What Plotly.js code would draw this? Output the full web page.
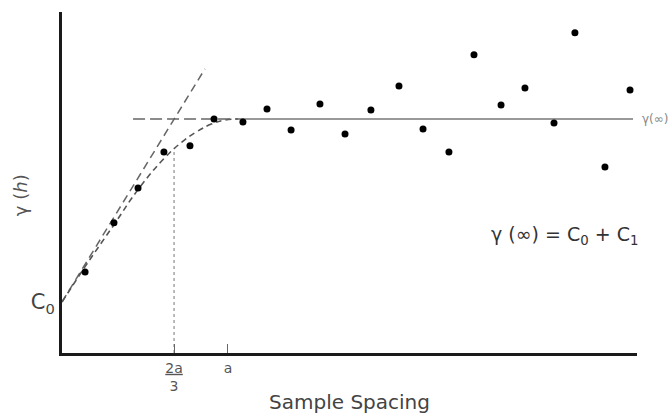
<!DOCTYPE html>
<html>
<head>
<meta charset="utf-8">
<script src="https://cdn.plot.ly/plotly-3.0.1.min.js"></script>
<style>html,body{margin:0;padding:0;background:#fff;}#chart{width:669px;height:415px;}</style>
</head>
<body>
<div id="chart"></div>
<script>
// Experimental semivariogram points (lag h in units of range a, gamma in units of sill)
const sampleSpacing = [0.139, 0.313, 0.458, 0.614, 0.771, 0.916, 1.090, 1.235, 1.380, 1.554, 1.705, 1.861, 2.030, 2.175, 2.331, 2.482, 2.645, 2.789, 2.964, 3.090, 3.271, 3.422];
const semivariance = [0.346, 0.556, 0.705, 0.859, 0.885, 1.000, 0.987, 1.043, 0.953, 1.064, 0.936, 1.038, 1.141, 0.957, 0.859, 1.274, 1.060, 1.132, 0.983, 1.368, 0.795, 1.124];

// Model curve
const modelX = [0, 0.14, 0.31, 0.46, 0.62, 0.72, 0.81, 0.90, 0.98, 1.06];
const modelY = [0.218, 0.37, 0.545, 0.70, 0.835, 0.90, 0.945, 0.978, 0.995, 1.0];

// Tangent at origin
const tangentX = [0, 0.861];
const tangentY = [0.218, 1.214];

// Key levels
const nuggetC0 = 0.218;
const sillLevel = 1.0;
const rangeA = 1.0;
const twoThirdsA = 0.675;
const sillDashX = [0.428, 1.10];
const sillSolidX = [1.10, 3.44];
const guideTopY = 0.87;

const xTickVals = [twoThirdsA, rangeA];
const xTickText = ['<u>2a</u><br>3', 'a'];
const yTickVals = [nuggetC0];
const yTickText = ['C<sub>0</sub>'];

const FONT = 'DejaVu Sans, sans-serif';

const traces = [
  {x: tangentX, y: tangentY, mode: 'lines', line: {color: '#666', width: 1.5, dash: '8px,5px'}, hoverinfo: 'skip'},
  {x: modelX, y: modelY, mode: 'lines', line: {color: '#555', width: 1.6, dash: '6px,4px', shape: 'spline', smoothing: 1.2}, hoverinfo: 'skip'},
  {x: sillDashX, y: [sillLevel, sillLevel], mode: 'lines', line: {color: '#666', width: 1.4, dash: '12px,5px'}, hoverinfo: 'skip'},
  {x: sillSolidX, y: [sillLevel, sillLevel], mode: 'lines', line: {color: '#999', width: 2}, hoverinfo: 'skip'},
  {x: [twoThirdsA, twoThirdsA], y: [0, guideTopY], mode: 'lines', line: {color: '#777', width: 1, dash: 'dot'}, hoverinfo: 'skip'},
  {x: sampleSpacing, y: semivariance, mode: 'markers', marker: {color: '#000', size: 7}, cliponaxis: false}
];

const layout = {
  width: 669, height: 415,
  margin: {l: 62, r: 32, t: 12, b: 62},
  paper_bgcolor: '#fff', plot_bgcolor: '#fff',
  showlegend: false,
  font: {family: FONT, color: '#444'},
  xaxis: {
    range: [0, 3.464], showgrid: false, zeroline: false,
    showline: true, linewidth: 3, linecolor: '#1a1a1a',
    tickvals: xTickVals, ticktext: xTickText,
    ticks: 'inside', ticklen: 9, tickwidth: 1, tickcolor: '#666',
    tickfont: {family: FONT, size: 14, color: '#555'},
    title: {text: 'Sample Spacing', font: {family: FONT, size: 20, color: '#444'}, standoff: 2}
  },
  yaxis: {
    range: [0, 1.457], showgrid: false, zeroline: false,
    showline: true, linewidth: 3, linecolor: '#1a1a1a',
    tickvals: yTickVals, ticktext: yTickText, ticks: '',
    tickfont: {family: FONT, size: 21, color: '#444'}
  },
  annotations: [
    {xref: 'paper', yref: 'paper', x: -0.073, y: 0.463, text: 'γ (<i>h</i>)', textangle: -90,
     showarrow: false, font: {family: FONT, size: 18, color: '#555'}, xanchor: 'center', yanchor: 'middle'},
    {xref: 'x', yref: 'y', x: 3.03, y: 0.504, text: 'γ (∞) = C<sub>0</sub> + C<sub>1</sub>',
     showarrow: false, font: {family: FONT, size: 19, color: '#333'}, xanchor: 'center', yanchor: 'middle'},
    {xref: 'paper', yref: 'y', x: 1.006, y: sillLevel, text: 'γ(∞)', showarrow: false,
     font: {family: FONT, size: 12, color: '#888'}, xanchor: 'left', yanchor: 'middle'}
  ]
};

Plotly.newPlot('chart', traces, layout, {staticPlot: true, displayModeBar: false});
</script>
</body>
</html>
